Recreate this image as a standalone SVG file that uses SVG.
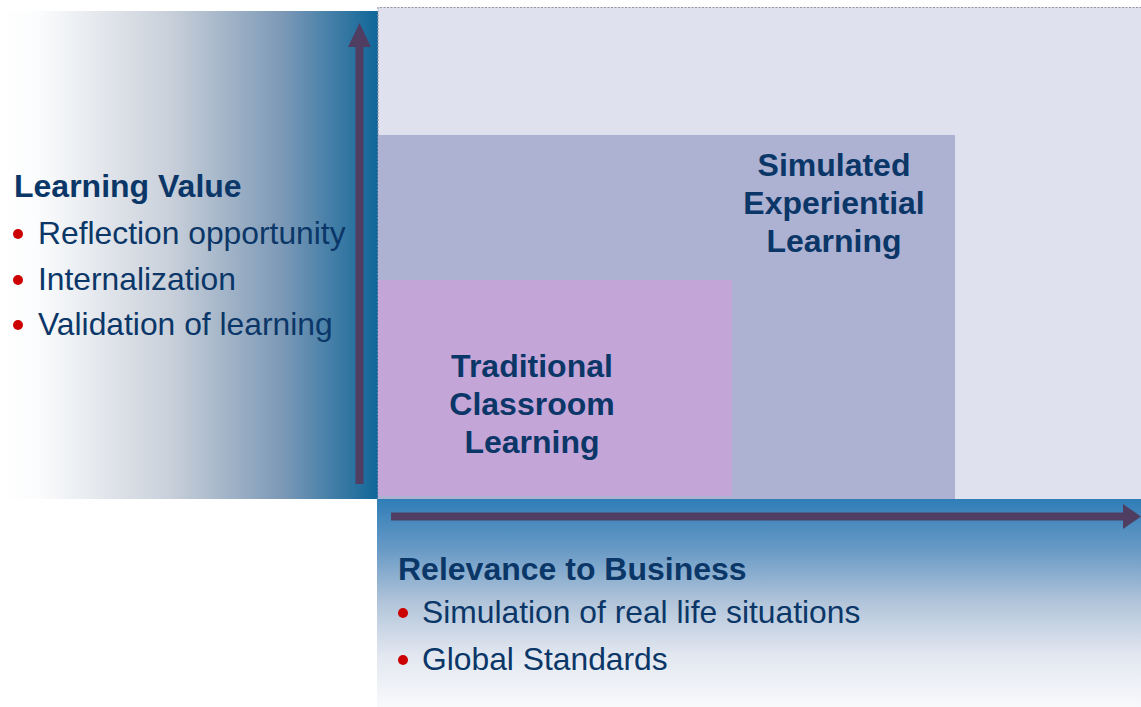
<svg xmlns="http://www.w3.org/2000/svg" width="1141" height="707" viewBox="0 0 1141 707">
<defs>
<linearGradient id="gLeft" x1="0" y1="0" x2="1" y2="0">
<stop offset="0" stop-color="#ffffff"/>
<stop offset="0.1" stop-color="#fbfcfd"/>
<stop offset="0.45" stop-color="#c9d0da"/>
<stop offset="0.75" stop-color="#7b98b6"/>
<stop offset="1" stop-color="#0f6699"/>
</linearGradient>
<linearGradient id="gBottom" x1="0" y1="0" x2="0" y2="1">
<stop offset="0" stop-color="#2f7db8"/>
<stop offset="0.25" stop-color="#6a9bc6"/>
<stop offset="0.5" stop-color="#b2c5da"/>
<stop offset="0.75" stop-color="#e2e7f0"/>
<stop offset="1" stop-color="#f8f9fb"/>
</linearGradient>
<style>
.h{font-family:"Liberation Sans",Arial,sans-serif;font-weight:bold;font-size:32px;fill:#0b3768}
.t{font-family:"Liberation Sans",Arial,sans-serif;font-size:31.8px;fill:#0b3768}
.b{fill:#cc0000}
.arr{fill:#4f3e62}
</style>
</defs>
<rect x="0" y="0" width="1141" height="707" fill="#ffffff"/>
<g id="left-panel">
<rect x="0" y="11" width="378" height="488" fill="url(#gLeft)"/>
<text class="h" x="14" y="197">Learning Value</text>
<circle class="b" cx="18" cy="234" r="5"/>
<text class="t" x="38" y="244">Reflection opportunity</text>
<circle class="b" cx="18" cy="280" r="5"/>
<text class="t" x="38" y="290">Internalization</text>
<circle class="b" cx="18" cy="325" r="5"/>
<text class="t" x="38" y="335">Validation of learning</text>
</g>
<g id="outer-box">
<rect x="378" y="7" width="763" height="492" fill="#dfe1ee"/>
<path d="M378 499 V7.5 H1141" fill="none" stroke="#9a93a8" stroke-width="1.2" stroke-dasharray="2 1.5"/>
</g>
<g id="simulated-experiential">
<rect x="378" y="135" width="577" height="364" fill="#adb1d2"/>
<text class="h" text-anchor="middle" x="834" y="176">Simulated</text>
<text class="h" text-anchor="middle" x="834" y="214">Experiential</text>
<text class="h" text-anchor="middle" x="834" y="252">Learning</text>
</g>
<g id="traditional-classroom">
<rect x="378" y="280" width="354" height="216" fill="#c4a5d8"/>
<text class="h" text-anchor="middle" x="532" y="377">Traditional</text>
<text class="h" text-anchor="middle" x="532" y="415">Classroom</text>
<text class="h" text-anchor="middle" x="532" y="453">Learning</text>
</g>
<g id="bottom-panel">
<rect x="377" y="499" width="764" height="208" fill="url(#gBottom)"/>
<text class="h" x="398" y="580">Relevance to Business</text>
<circle class="b" cx="403" cy="613" r="5"/>
<text class="t" x="422" y="623">Simulation of real life situations</text>
<circle class="b" cx="403" cy="660" r="5"/>
<text class="t" x="422" y="670">Global Standards</text>
</g>
<g id="connectors">
<path class="arr" d="M355.5 484 V47 H348 L359.5 23 L371 47 H363.5 V484 Z"/>
<path class="arr" d="M391 512.5 H1123 V504 L1141 516.5 L1123 529 V520.5 H391 Z"/>
</g>
</svg>
